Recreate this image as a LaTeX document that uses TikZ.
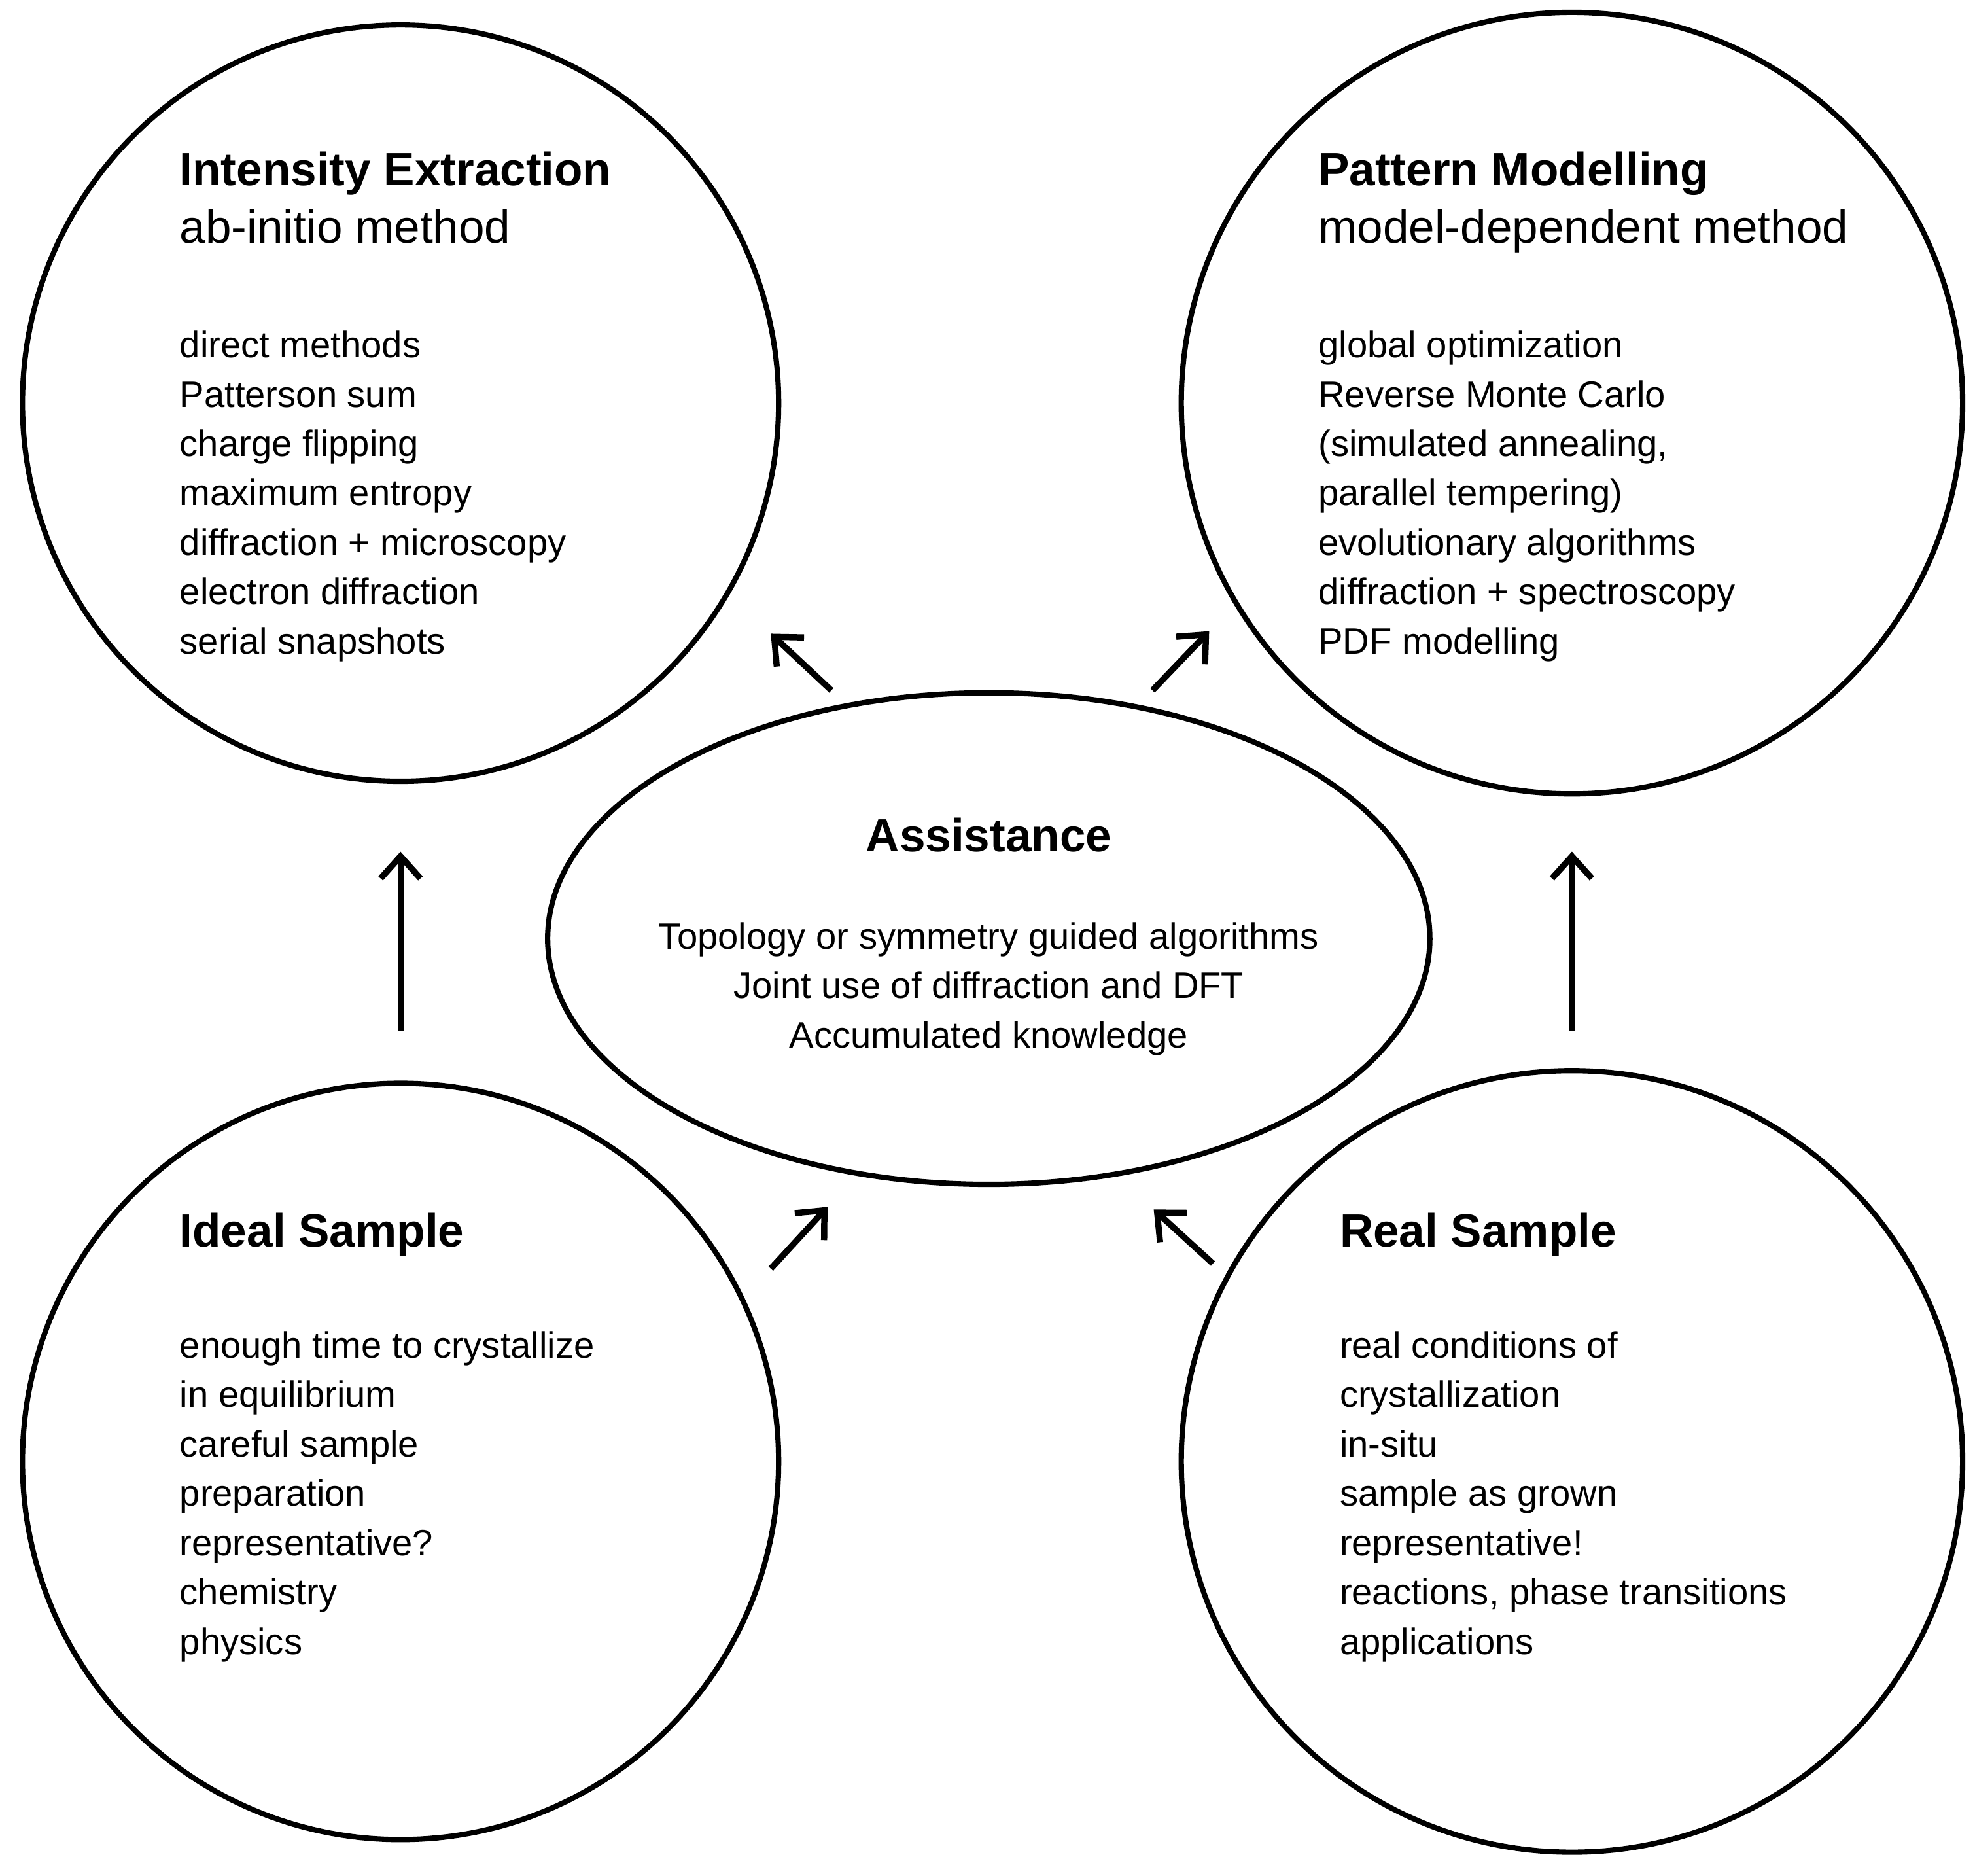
\documentclass[tikz,border=0pt]{standalone}
\usepackage{fontspec}
\setmainfont{Liberation Sans}
\usetikzlibrary{arrows.meta,shapes.geometric}
\begin{document}
\begin{tikzpicture}[x=0.01cm,y=-0.01cm]
            % Define styles
            \tikzset{bubble/.style={draw,line width=1.2pt,shape=circle,minimum size=6cm},
                     flow/.style={line width=1.4pt,-{Straight Barb[length=5pt,width=9pt,line width=1.4pt]}},
                     head/.style={anchor=north west,align=left,inner sep=0,font=\fontsize{10.5pt}{13pt}\selectfont},
                     items/.style={anchor=north west,align=left,inner sep=0,font=\fontsize{8.3pt}{11.15pt}\selectfont}}
            \useasboundingbox (0,0) rectangle (1568,1489);
            % Circles
                \node (ideal) at (318,320) [bubble] {};
                \node (model) at (1248,320) [bubble,minimum size=6.2cm] {};
                \node (isample) at (318,1160) [bubble] {};
                \node (rsample) at (1248,1160) [bubble,minimum size=6.2cm] {};
                \node (assist) at (785,745) [draw,line width=1.2pt,ellipse,minimum width=7cm,minimum height=3.9cm] {};
            % Texts
                \node (t1) at (142,120) [head] {\textbf{Intensity Extraction}\\ab-initio method};
                \node (l1) at (142,262) [items] {direct methods\\Patterson sum\\charge flipping\\maximum entropy\\diffraction + microscopy\\electron diffraction\\serial snapshots};
                \node (t2) at (1046,120) [head] {\textbf{Pattern Modelling}\\model-dependent method};
                \node (l2) at (1046,262) [items] {global optimization\\Reverse Monte Carlo\\(simulated annealing,\\parallel tempering)\\evolutionary algorithms\\diffraction + spectroscopy\\PDF modelling};
                \node (t3) at (142,962) [head] {\textbf{Ideal Sample}};
                \node (l3) at (142,1056) [items] {enough time to crystallize\\in equilibrium\\careful sample\\preparation\\representative?\\chemistry\\physics};
                \node (t4) at (1063,962) [head] {\textbf{Real Sample}};
                \node (l4) at (1063,1056) [items] {real conditions of\\crystallization\\in-situ\\sample as grown\\representative!\\reactions, phase transitions\\applications};
                \node (t5) at (785,663) [font=\fontsize{10.5pt}{13pt}\selectfont\bfseries] {Assistance};
                \node (l5) at (785,785) [align=center,font=\fontsize{8.3pt}{11.15pt}\selectfont] {Topology or symmetry guided algorithms\\Joint use of diffraction and DFT\\Accumulated knowledge};
            % Arrow ends
                \coordinate (a1s) at (318,818); \coordinate (a1e) at (318,676);
                \coordinate (a2s) at (1248,818); \coordinate (a2e) at (1248,676);
                \coordinate (a3s) at (660,548); \coordinate (a3e) at (612,503);
                \coordinate (a4s) at (915,548); \coordinate (a4e) at (960,501);
                \coordinate (a5s) at (612,1007); \coordinate (a5e) at (657,958);
                \coordinate (a6s) at (963,1003); \coordinate (a6e) at (916,960);
            % Arrows
                \draw [flow] (a1s) -- (a1e);
                \draw [flow] (a2s) -- (a2e);
                \draw [flow] (a3s) -- (a3e);
                \draw [flow] (a4s) -- (a4e);
                \draw [flow] (a5s) -- (a5e);
                \draw [flow] (a6s) -- (a6e);
\end{tikzpicture}
\end{document}
